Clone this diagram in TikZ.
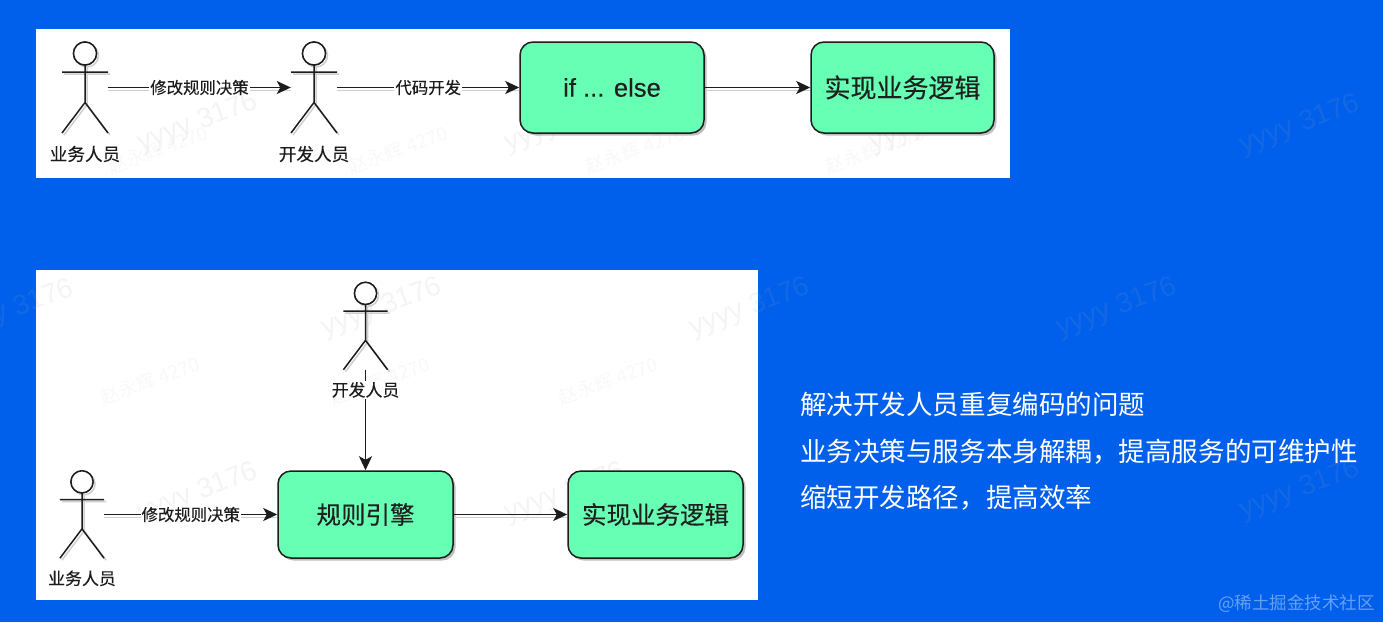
\documentclass[tikz,border=0pt]{standalone}
\usepackage{fontspec}
\setmainfont{Liberation Sans}
\newfontfamily\cjk{Noto Sans CJK SC}
\newfontfamily\cjkm[FakeBold=0.25]{Noto Sans CJK SC}
\newfontfamily\latm[FakeBold=0.25]{Liberation Sans}
\usetikzlibrary{arrows.meta,shadows}
\definecolor{bgblue}{HTML}{0060EC}
\definecolor{boxgreen}{HTML}{66FFB3}
\definecolor{inkc}{HTML}{1C1C1C}
\definecolor{shadowc}{HTML}{CFCFCF}
\newcommand{\fs}[1]{\fontsize{#1}{#1}\selectfont}
\newcommand{\actorfig}[6]{%
  % name, x, y of centre, label, scale, label size
  \node[actorbox,minimum width=#5*46pt,minimum height=#5*91pt] (#1) at (#2,#3) {};
  \foreach \dx/\col in {2/shadowc,0/inkc}{
    \draw[actorline,draw=\col,shift={(#1.center)},xshift=\dx pt,yshift=-\dx pt,scale=#5]
      (0,-34) circle[radius=11.5]
      (-23,-15.5) -- (23,-15.5)
      (0,-23) -- (0,15)
      (-23,45.5) -- (0,15) -- (23,45.5);
  }
  \fill[white,draw=inkc,line width=1.4pt,shift={(#1.center)},scale=#5] (0,-34) circle[radius=11.5];
  \node[actorlabel,font=\cjkm\fs{#6}] (#1l) at ([yshift=-#5*66.5pt]#1.center) {#4};
}
\tikzset{
  x=1pt,y=-1pt,
  panel/.style={fill=white,draw=none},
  actorbox/.style={draw=none,inner sep=0pt},
  actorline/.style={line width=1.5pt},
  actorlabel/.style={text=inkc,inner sep=0pt},
  greenbox/.style={draw=inkc,line width=1.5pt,fill=boxgreen,rounded corners=13pt,inner sep=0pt,text=black!88,font=\cjkm\fs{26},
    drop shadow={shadow xshift=2.5pt,shadow yshift=-2.5pt,fill=black,opacity=.25}},
  flow/.style={draw=inkc,line width=1.6pt,-{Stealth[length=14pt,width=13pt,inset=3.5pt]}},
  flowshadow/.style={draw=shadowc,line width=1.4pt},
  edgelabel/.style={fill=white,font=\cjkm\fs{16.4},text=inkc,inner sep=1pt},
  sidetext/.style={anchor=west,font=\cjk\fs{26.55},text=white,inner sep=0pt},
  markon/.style={font=\fs{28},text=gray!70,opacity=.12,rotate=20,inner sep=0pt},
  markcn/.style={font=\cjk\fs{19},text=gray!70,opacity=.07,rotate=20,inner sep=0pt},
}
\begin{document}
\begin{tikzpicture}
\useasboundingbox (0,0) rectangle (1383,622);
\fill[bgblue] (0,0) rectangle (1383,622);
\node[panel,minimum width=974pt,minimum height=149pt,inner sep=0pt] (p1) at (523,103.5) {};
\node[panel,minimum width=722pt,minimum height=330pt,inner sep=0pt] (p2) at (397,435) {};
% watermarks
\node[markon] (w1) at (198,123) {yyyy 3176};
\node[markon] (w2) at (565,123) {yyyy 3176};
\node[markon] (w3) at (930,123) {yyyy 3176};
\node[markon] (w4) at (1300,125) {yyyy 3176};
\node[markon] (w5) at (14,310) {yyyy 3176};
\node[markon] (w6) at (382,308) {yyyy 3176};
\node[markon] (w7) at (750,308) {yyyy 3176};
\node[markon] (w8) at (1117,308) {yyyy 3176};
\node[markon] (w9) at (198,493) {yyyy 3176};
\node[markon] (w10) at (565,493) {yyyy 3176};
\node[markon] (w11) at (1300,490) {yyyy 3176};
\node[markcn] (c1) at (158,150) {赵永辉 4270};
\node[markcn] (c2) at (398,150) {赵永辉 4270};
\node[markcn] (c3) at (635,150) {赵永辉 4270};
\node[markcn] (c4) at (875,150) {赵永辉 4270};
\node[markcn] (c5) at (150,381) {赵永辉 4270};
\node[markcn] (c6) at (380,381) {赵永辉 4270};
\node[markcn] (c7) at (608,381) {赵永辉 4270};
% top row
\actorfig{a1}{85}{87.5}{业务人员}{1}{17.6}
\actorfig{a2}{314}{87.5}{开发人员}{1}{17.6}
\node[greenbox,minimum width=184pt,minimum height=91pt,font=\latm\fs{25.6}] (b1) at (612,87.5) {if ... else};
\node[greenbox,minimum width=183pt,minimum height=91pt] (b2) at (902.5,87.5) {实现业务逻辑};
% bottom
\actorfig{a3}{365.5}{326}{开发人员}{.96}{16.9}
\actorfig{a4}{82}{514.5}{业务人员}{.96}{16.9}
\node[greenbox,minimum width=175pt,minimum height=87pt,font=\cjkm\fs{24.5}] (b3) at (365.5,514.5) {规则引擎};
\node[greenbox,minimum width=175pt,minimum height=87pt,font=\cjkm\fs{24.5}] (b4) at (655.5,514.5) {实现业务逻辑};
% connectors
\draw[flowshadow] ([yshift=-3pt]a1.east) -- ([yshift=-3pt]a2.west);
\draw[flow] (a1.east) -- node[edgelabel] (l1) {修改规则决策} (a2.west);
\draw[flowshadow] ([yshift=-3pt]a2.east) -- ([yshift=-3pt]b1.west);
\draw[flow] (a2.east) -- node[edgelabel] (l2) {代码开发} (b1.west);
\draw[flowshadow] ([yshift=-3pt]b1.east) -- ([yshift=-3pt]b2.west);
\draw[flow] (b1.east) -- (b2.west);
\draw[flowshadow] ([yshift=-3pt]a4.east) -- ([yshift=-3pt]b3.west);
\draw[flow] (a4.east) -- node[edgelabel] (l3) {修改规则决策} (b3.west);
\draw[flowshadow] ([yshift=-3pt]b3.east) -- ([yshift=-3pt]b4.west);
\draw[flow] (b3.east) -- (b4.west);
\draw[flow] (a3.south) -- (b3.north);
\node[fill=white,inner sep=1pt,font=\cjkm\fs{16.9},text=inkc] at (a3l) {开发人员};
% side text
\node[sidetext] (s1) at (800,404) {解决开发人员重复编码的问题};
\node[sidetext] (s2) at (800,452) {业务决策与服务本身解耦，提高服务的可维护性};
\node[sidetext] (s3) at (800,498) {缩短开发路径，提高效率};
\node[font=\cjk\fs{17.5},text=white!40!bgblue,anchor=east,inner sep=0pt] (s4) at (1375,604) {@稀土掘金技术社区};
\end{tikzpicture}
\end{document}
